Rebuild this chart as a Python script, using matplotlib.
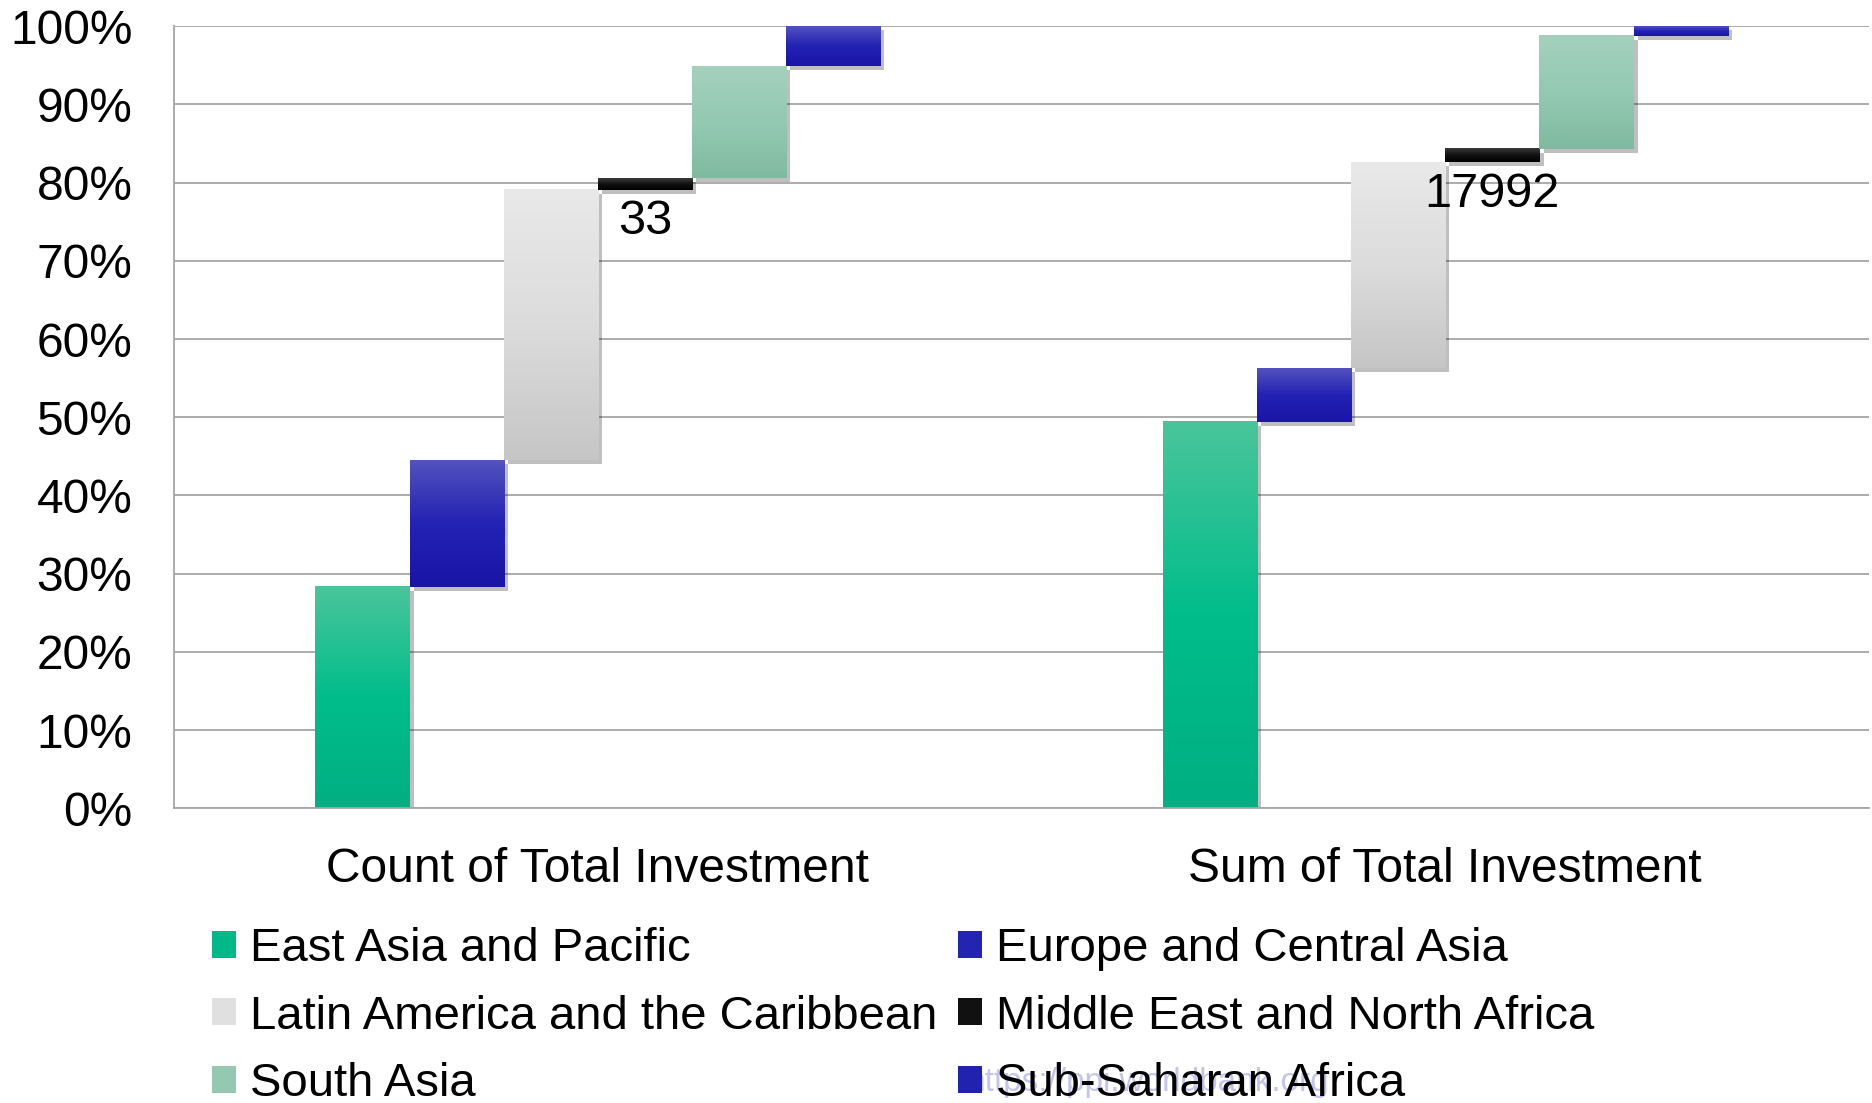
import numpy as np
import matplotlib
matplotlib.use("Agg")
import matplotlib.pyplot as plt
import matplotlib.patheffects as pe
from matplotlib.colors import LinearSegmentedColormap
from matplotlib.patches import Patch

plt.rcParams['font.family'] = ['Liberation Sans', 'DejaVu Sans']

categories = ['Count of Total Investment', 'Sum of Total Investment']
regions = ['East Asia and Pacific', 'Europe and Central Asia',
           'Latin America and the Caribbean', 'Middle East and North Africa',
           'South Asia', 'Sub-Saharan Africa']
# share of total (%) per region, per category
count_pct = [28.3, 16.2, 34.6, 1.5, 14.3, 5.1]
sum_pct = [49.4, 6.9, 26.3, 1.7, 14.5, 1.2]
# data labels shown on the Middle East and North Africa series
mena_labels = ['33', '17992']

# gradient colours (bottom -> top) for each region
grad_colors = [
    ['#00af83', '#00bd8b', '#4ac59b'],
    ['#1915a6', '#2222b4', '#5352be'],
    ['#c6c6c6', '#dcdcdc', '#e9e9e9'],
    ['#000000', '#111111', '#3c3c3c'],
    ['#7fbaa0', '#94c9b3', '#a4d1be'],
    ['#1915a6', '#2222b4', '#5352be'],
]
legend_colors = ['#00b888', '#2424b2', '#e0e0e0', '#111111', '#94c8b2', '#2222b0']

fig = plt.figure(figsize=(18.72, 11.03), dpi=100)
ax = fig.add_axes([0.093, 0.2672, 0.9054, 0.709])

data = np.array([count_pct, sum_pct])
bottoms = np.cumsum(data, axis=1) - data
x = np.arange(len(categories))
w = 1 / 9

grad = np.linspace(0, 1, 256).reshape(-1, 1)
for i, name in enumerate(regions):
    bars = ax.bar(x + (i - 2.5) * w, data[:, i], width=w, bottom=bottoms[:, i],
                  color=legend_colors[i], zorder=2,
                  path_effects=[pe.SimplePatchShadow(offset=(3, -3), shadow_rgbFace='#000000', alpha=0.25),
                                pe.Normal()])
    cmap = LinearSegmentedColormap.from_list(name, grad_colors[i])
    for p in bars.patches:
        x0, y0 = p.get_x(), p.get_y()
        ax.imshow(grad, extent=[x0, x0 + p.get_width(), y0, y0 + p.get_height()],
                  origin='lower', aspect='auto', cmap=cmap, zorder=2.1,
                  interpolation='bicubic')
    if i == 3:
        for p, lab in zip(bars.patches, mena_labels):
            ax.annotate(lab, (p.get_x() + p.get_width() / 2, p.get_y()),
                        xytext=(0, -7), textcoords='offset points',
                        ha='center', va='top', fontsize=35, zorder=5)

ax.set_xlim(-0.5, 1.5)
ax.set_ylim(0, 100)
ax.set_yticks(np.arange(0, 101, 10))
ax.set_yticklabels([f'{v}%' for v in range(0, 101, 10)])
ax.set_xticks(x)
ax.set_xticklabels(categories)
ax.tick_params(axis='y', length=0, pad=30, labelsize=34.5)
ax.tick_params(axis='x', length=0, pad=28, labelsize=34.5)
ax.yaxis.grid(True, color='#a6a6a6', linewidth=1.3)
ax.set_axisbelow(True)
for s in ['top', 'right']:
    ax.spines[s].set_visible(False)
for s in ['left', 'bottom']:
    ax.spines[s].set_color('#a6a6a6')
    ax.spines[s].set_linewidth(1.3)

order = [0, 2, 4, 1, 3, 5]
handles = [Patch(facecolor=legend_colors[k], edgecolor='none') for k in order]
labels = [regions[k] for k in order]
fig.legend(handles, labels, ncol=2, loc='upper left', bbox_to_anchor=(0.1132, 0.1595),
           frameon=False, fontsize=34, borderpad=0, borderaxespad=0,
           handlelength=0.5, handleheight=0.5, handletextpad=0.3,
           columnspacing=0.45, labelspacing=0.5)

fig.text(967 / 1872, 1 - 1083 / 1103, 'https://ppi.worldbank.org', color='#c4c4ee',
         fontsize=24, va='center', ha='left', zorder=0)

fig.savefig('out.png', dpi=100)
